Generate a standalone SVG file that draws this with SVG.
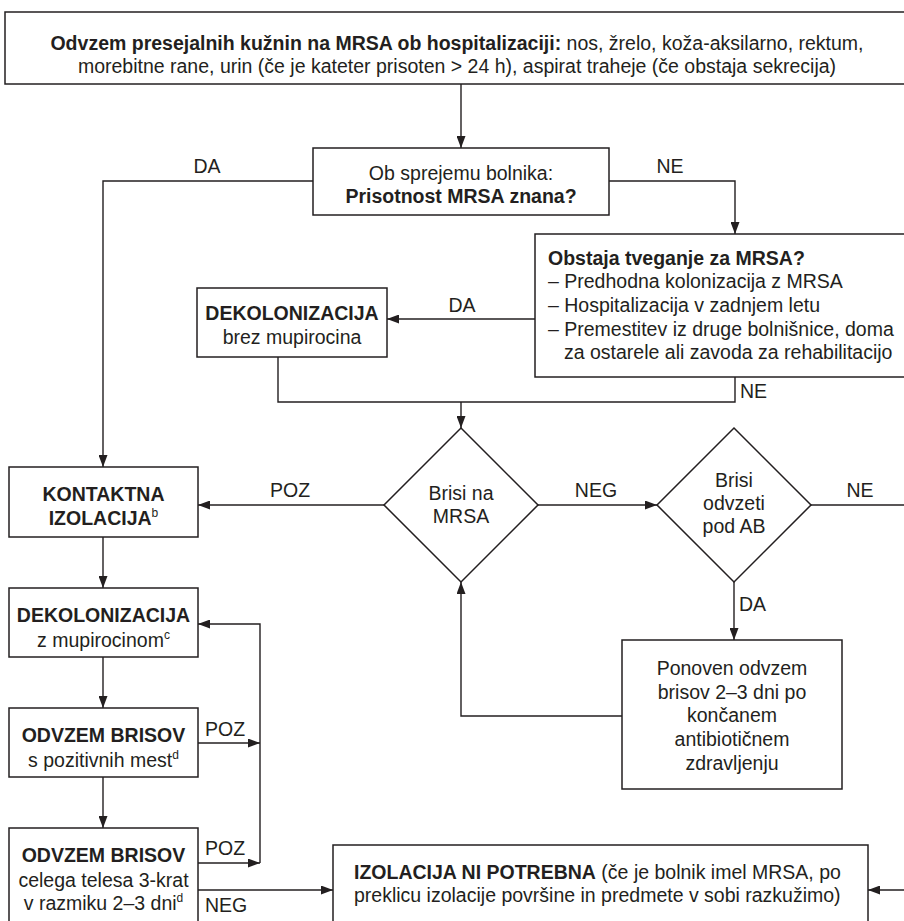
<svg xmlns="http://www.w3.org/2000/svg" width="904" height="921" viewBox="0 0 904 921">
<defs>
<marker id="ah" markerUnits="userSpaceOnUse" markerWidth="12" markerHeight="9" refX="12" refY="4.5" orient="auto">
<path d="M0,0 L12,4.5 L0,9 z" fill="#231f20"/>
</marker>
<style>
.box{fill:#fff;stroke:#231f20;stroke-width:1.5}
.ln{fill:none;stroke:#231f20;stroke-width:1.4}
.ar{marker-end:url(#ah)}
text{font-family:"Liberation Sans",Arial,Helvetica,sans-serif;font-size:19.5px;fill:#231f20}
.b{font-weight:bold}
.m{text-anchor:middle}
.sup{font-size:12px}
</style>
</defs>
<rect width="904" height="921" fill="#fff"/>

<g id="connectors">
<path class="ln ar" d="M461,84 V148"/>
<path class="ln ar" d="M313,181 H103 V467"/>
<path class="ln ar" d="M609,181 H735 V234"/>
<path class="ln ar" d="M535,319 H387"/>
<path class="ln" d="M278,357 V402 H735 V377"/>
<path class="ln ar" d="M461,402 V428"/>
<path class="ln ar" d="M384,505 H198"/>
<path class="ln ar" d="M538,505 H657"/>
<path class="ln ar" d="M811,505 H915 V890 H868"/>
<path class="ln ar" d="M734,582 V640"/>
<path class="ln ar" d="M622,716 H461 V582"/>
<path class="ln ar" d="M103,537 V588"/>
<path class="ln ar" d="M103,657 V708"/>
<path class="ln ar" d="M103,777 V828"/>
<path class="ln ar" d="M198,743 H260"/>
<path class="ln ar" d="M198,863 H260"/>
<path class="ln ar" d="M260,863 V624 H198"/>
<path class="ln ar" d="M198,890 H333"/>
<text class="m" x="207" y="173">DA</text>
<text class="m" x="670" y="173">NE</text>
<text class="m" x="462" y="312">DA</text>
<text x="740" y="398">NE</text>
<text class="m" x="290" y="497">POZ</text>
<text class="m" x="596" y="497">NEG</text>
<text class="m" x="860" y="497">NE</text>
<text x="739" y="611">DA</text>
<text x="205" y="736">POZ</text>
<text x="205" y="855">POZ</text>
<text x="205" y="912">NEG</text>
</g>

<g id="n-odvzem">
<rect class="box" x="5" y="12" width="915" height="72"/>
<text class="m" x="457" y="50"><tspan class="b">Odvzem presejalnih kužnin na MRSA ob hospitalizaciji:</tspan> nos, žrelo, koža-aksilarno, rektum,</text>
<text class="m" x="457" y="73">morebitne rane, urin (če je kateter prisoten &gt; 24 h), aspirat traheje (če obstaja sekrecija)</text>
</g>

<g id="n-sprejem">
<rect class="box" x="313" y="148" width="296" height="67"/>
<text class="m" x="461" y="180">Ob sprejemu bolnika:</text>
<text class="m b" x="461" y="203">Prisotnost MRSA znana?</text>
</g>

<g id="n-tveganje">
<rect class="box" x="535" y="234" width="380" height="143"/>
<text class="b" x="548" y="265">Obstaja tveganje za MRSA?</text>
<text x="548" y="288">– Predhodna kolonizacija z MRSA</text>
<text x="548" y="312">– Hospitalizacija v zadnjem letu</text>
<text x="548" y="336">– Premestitev iz druge bolnišnice, doma</text>
<text x="564" y="359">za ostarele ali zavoda za rehabilitacijo</text>
</g>

<g id="n-dekol-brez">
<rect class="box" x="197" y="288" width="190" height="69"/>
<text class="m b" x="292" y="320">DEKOLONIZACIJA</text>
<text class="m" x="292" y="344">brez mupirocina</text>
</g>

<g id="n-brisi-mrsa">
<polygon class="box" points="461,428 538,505 461,582 384,505"/>
<text class="m" x="461" y="500">Brisi na</text>
<text class="m" x="461" y="523">MRSA</text>
</g>

<g id="n-brisi-ab">
<polygon class="box" points="734,428 811,505 734,582 657,505"/>
<text class="m" x="734" y="487">Brisi</text>
<text class="m" x="734" y="510">odvzeti</text>
<text class="m" x="734" y="533">pod AB</text>
</g>

<g id="n-kontaktna">
<rect class="box" x="9" y="467" width="189" height="70"/>
<text class="m b" x="103.5" y="501">KONTAKTNA</text>
<text class="m b" x="103.5" y="525">IZOLACIJA<tspan class="sup" font-weight="normal" dy="-8">b</tspan></text>
</g>

<g id="n-dekol-mup">
<rect class="box" x="9" y="588" width="189" height="69"/>
<text class="m b" x="103.5" y="622">DEKOLONIZACIJA</text>
<text class="m" x="103.5" y="647">z mupirocinom<tspan class="sup" dy="-8">c</tspan></text>
</g>

<g id="n-odvzem-poz">
<rect class="box" x="9" y="708" width="189" height="69"/>
<text class="m b" x="103.5" y="742">ODVZEM BRISOV</text>
<text class="m" x="103.5" y="767">s pozitivnih mest<tspan class="sup" dy="-8">d</tspan></text>
</g>

<g id="n-odvzem-telo">
<rect class="box" x="9" y="828" width="189" height="110"/>
<text class="m b" x="103.5" y="862">ODVZEM BRISOV</text>
<text class="m" x="103.5" y="887">celega telesa 3-krat</text>
<text class="m" x="103.5" y="910">v razmiku 2–3 dni<tspan class="sup" dy="-8">d</tspan></text>
</g>

<g id="n-ponoven">
<rect class="box" x="622" y="640" width="220" height="149"/>
<text class="m" x="732" y="675">Ponoven odvzem</text>
<text class="m" x="732" y="699">brisov 2–3 dni po</text>
<text class="m" x="732" y="722">končanem</text>
<text class="m" x="732" y="746">antibiotičnem</text>
<text class="m" x="732" y="770">zdravljenju</text>
</g>

<g id="n-izolacija">
<rect class="box" x="333" y="845" width="535" height="100"/>
<text x="354" y="879"><tspan class="b">IZOLACIJA NI POTREBNA</tspan> (če je bolnik imel MRSA, po</text>
<text x="354" y="902">preklicu izolacije površine in predmete v sobi razkužimo)</text>
</g>
</svg>
